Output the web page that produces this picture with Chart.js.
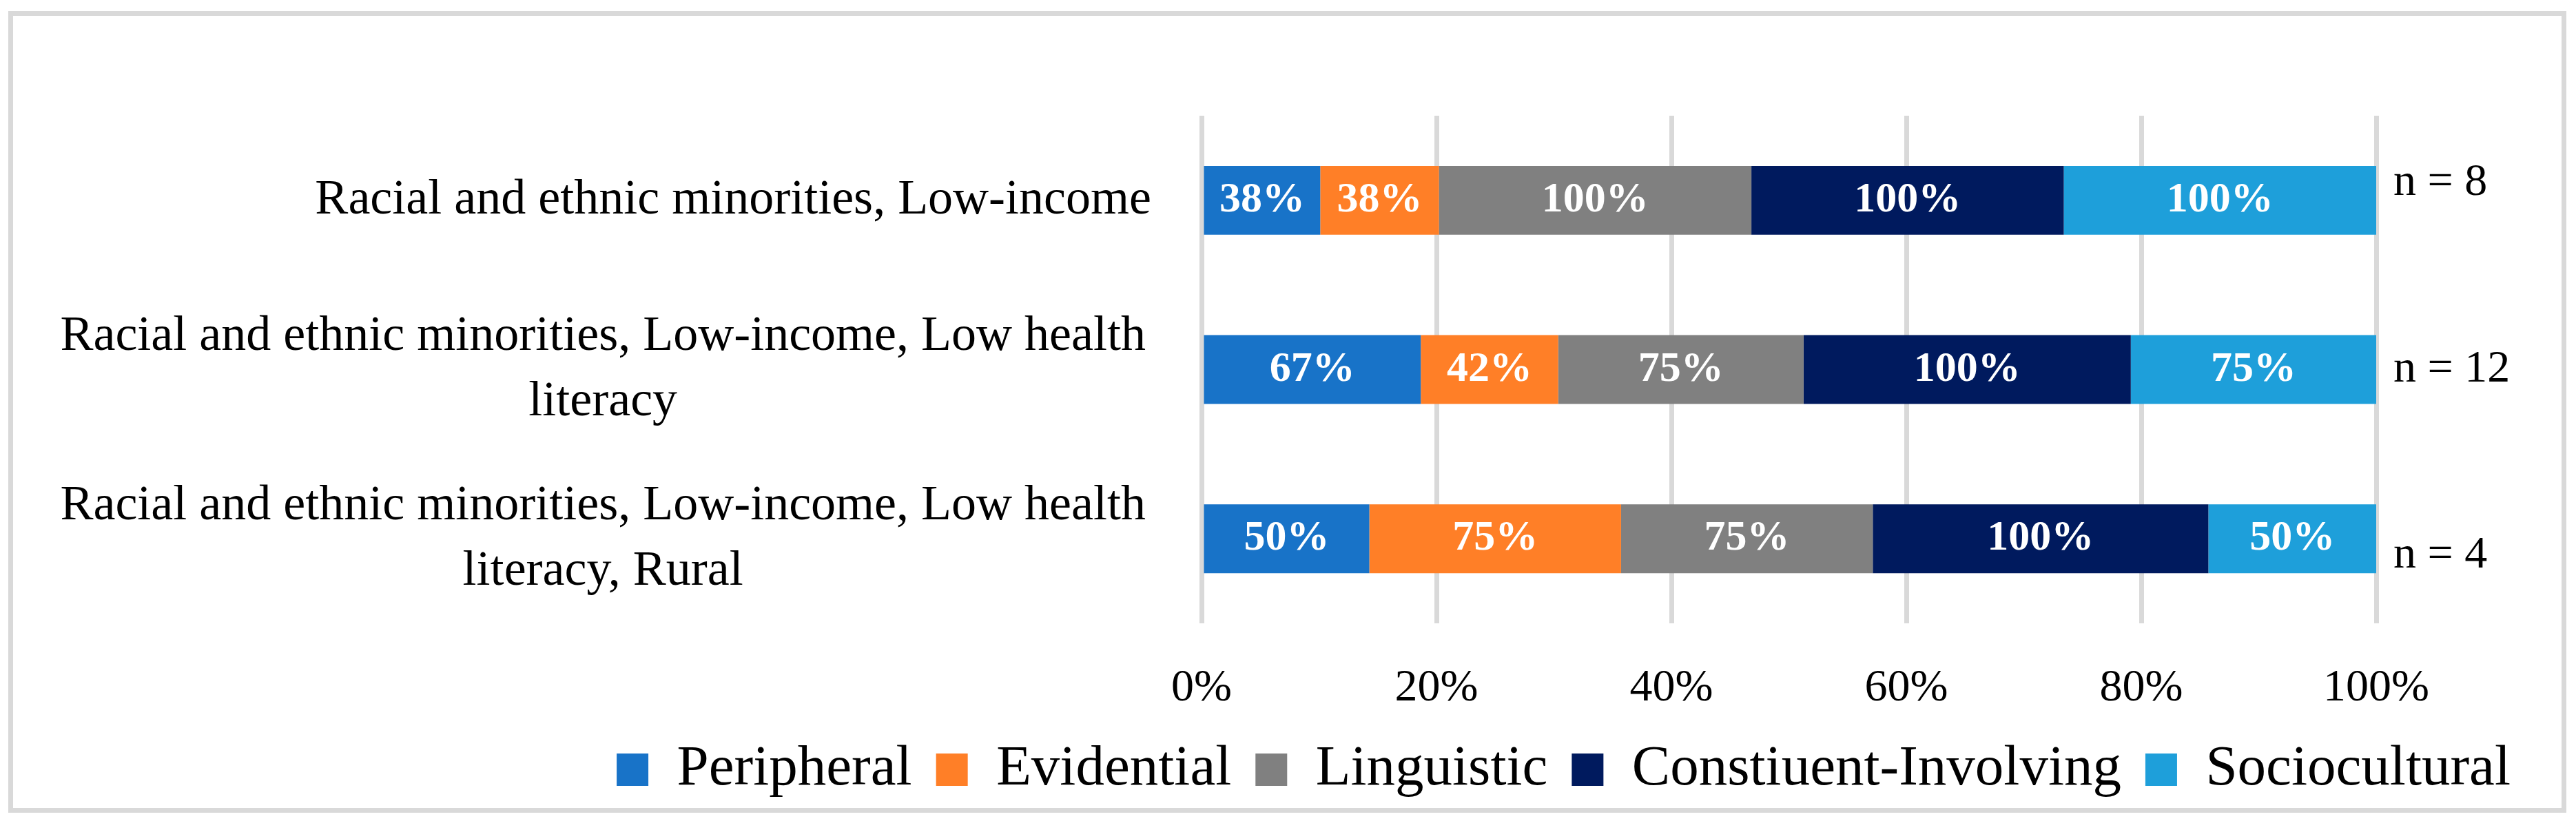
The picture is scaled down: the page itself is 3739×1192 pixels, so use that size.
<!DOCTYPE html>
<html>
<head>
<meta charset="utf-8">
<script src="https://cdn.jsdelivr.net/npm/chart.js@4.4.1/dist/chart.umd.min.js"></script>
<style>
html, body { margin: 0; padding: 0; background: #fff; }
#wrap { position: relative; width: 3739px; height: 1192px; }
#frame { position: absolute; left: 12px; top: 16px; width: 3713px; height: 1164px; box-sizing: border-box; border: 7px solid #d9d9d9; pointer-events: none; }
canvas { position: absolute; left: 0; top: 0; }
</style>
</head>
<body>
<div id="wrap"><canvas id="chart" width="3739" height="1192"></canvas><div id="frame"></div></div>
<script>
const groups = [
    ['Racial and ethnic minorities, Low-income'],
    ['Racial and ethnic minorities, Low-income, Low health', 'literacy'],
    ['Racial and ethnic minorities, Low-income, Low health', 'literacy, Rural']
];
const sampleSizes = ['n = 8', 'n = 12', 'n = 4'];
const strategies = ['Peripheral', 'Evidential', 'Linguistic', 'Constiuent-Involving', 'Sociocultural'];
const colors = ['#1873C8', '#FF7F27', '#808080', '#001A5E', '#1E9FDA'];

const peripheral = [38, 67, 50];
const evidential = [38, 42, 75];
const linguistic = [100, 75, 75];
const constituent = [100, 100, 100];
const sociocultural = [100, 75, 50];
const xTicks = [0, 20, 40, 60, 80, 100];

const series = [peripheral, evidential, linguistic, constituent, sociocultural];
const FONT = 'Liberation Serif';

// bars are 100% stacked: each row is split by its share of the row total
const rowTotals = groups.map((g, i) => series.reduce((s, arr) => s + arr[i], 0));

const barLabels = {
    id: 'barLabels',
    afterDatasetsDraw(chart) {
        const ctx = chart.ctx;
        ctx.save();
        ctx.font = `bold 62px "${FONT}"`;
        ctx.fillStyle = '#fff';
        ctx.textAlign = 'center';
        ctx.textBaseline = 'middle';
        chart.data.datasets.forEach((ds, i) => {
            chart.getDatasetMeta(i).data.forEach((bar, j) => {
                const { x, base, y } = bar.getProps(['x', 'base', 'y'], true);
                ctx.fillText(ds.percent[j] + '%', (x + base) / 2, y);
            });
        });
        ctx.restore();
    }
};

new Chart(document.getElementById('chart'), {
    type: 'bar',
    data: {
        labels: groups,
        datasets: strategies.map((name, k) => ({
            label: name,
            data: series[k].map((v, i) => v / rowTotals[i] * 100),
            percent: series[k],
            backgroundColor: colors[k],
            borderWidth: 0,
            categoryPercentage: 1,
            barPercentage: 0.407
        }))
    },
    options: {
        indexAxis: 'y',
        responsive: false,
        animation: false,
        devicePixelRatio: 1,
        layout: { padding: { top: 167, left: 0, right: 60, bottom: 23 } },
        plugins: {
            tooltip: { enabled: false },
            legend: {
                position: 'bottom',
                align: 'end',
                labels: {
                    boxWidth: 46,
                    boxHeight: 47,
                    padding: 35,
                    color: '#000',
                    font: { family: FONT, size: 83 }
                }
            }
        },
        scales: {
            x: {
                stacked: true,
                min: 0,
                max: 100,
                grid: { color: '#d9d9d9', lineWidth: 7, drawTicks: false },
                border: { display: false },
                afterBuildTicks: s => { s.ticks = xTicks.map(v => ({ value: v })); },
                ticks: {
                    padding: 55,
                    color: '#000',
                    font: { family: FONT, size: 66 },
                    callback: v => v + '%'
                },
                afterFit: s => { s.height = 136; }
            },
            y: {
                stacked: true,
                grid: { display: false, drawTicks: false },
                border: { display: false },
                ticks: {
                    crossAlign: 'center',
                    padding: 73,
                    color: '#000',
                    font: { family: FONT, size: 72, lineHeight: 1.32 },
                    // single-line label sits flush right, wrapped ones are centred
                    callback: (v, i) => groups[i].length === 1 ? [' '.repeat(21) + groups[i][0]] : groups[i]
                },
                afterFit: s => { s.width = 1744; }
            },
            y2: {
                type: 'category',
                position: 'right',
                labels: sampleSizes,
                offset: true,
                grid: { display: false, drawTicks: false },
                border: { display: false },
                ticks: {
                    padding: 25,
                    color: '#000',
                    font: { family: FONT, size: 66, lineHeight: 0.75 },
                    callback: (v, i) => i === 0 ? [sampleSizes[i], ''] : i === 2 ? ['', sampleSizes[i]] : sampleSizes[i]
                },
                afterFit: s => { s.width = 230; }
            }
        }
    },
    plugins: [barLabels]
});
</script>
</body>
</html>
